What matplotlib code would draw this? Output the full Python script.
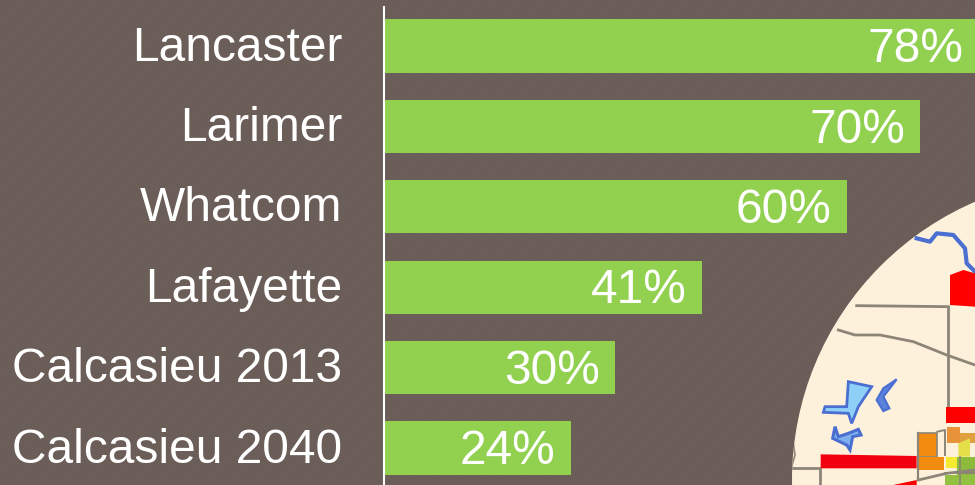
import numpy as np
import matplotlib
matplotlib.use("Agg")
import matplotlib.pyplot as plt
from matplotlib.patches import Circle, Polygon

plt.rcParams["font.family"] = ["Liberation Sans", "DejaVu Sans"]

counties = ["Lancaster", "Larimer", "Whatcom", "Lafayette", "Calcasieu 2013", "Calcasieu 2040"]
shares = [77.7, 70, 60.4, 41.5, 30.2, 24.4]
share_labels = ["78%", "70%", "60%", "41%", "30%", "24%"]

W, H = 975, 485
BG = "#6b5d57"
GREEN = "#92d050"

# the .01 stops 4.85 * 100 rounding down to 484 px
fig = plt.figure(figsize=((W + 0.01) / 100, (H + 0.01) / 100), dpi=100, facecolor=BG)

# background weave + map picture, in pixel coordinates
deco = fig.add_axes([0, 0, 1, 1], zorder=0)
deco.axis("off")

yy, xx = np.mgrid[0:H, 0:W]
weave = ((xx + yy) % 3 == 0).astype(float)
deco.imshow(weave, extent=(0, W, H, 0), cmap=matplotlib.colors.ListedColormap(["#695b55", "#6f615b"]),
            interpolation="nearest", aspect="auto", zorder=0)
deco.set_xlim(0, W)
deco.set_ylim(H, 0)

disc = Circle((1095, 480), 303, fc="#fdf1dc", ec="none", zorder=1)
deco.add_patch(disc)


def zpts(pts):
    return [(780 + x / 3, 210 + y / 3) for x, y in pts]


def zline(pts, color, lw, z=2):
    p = zpts(pts)
    ln, = deco.plot([a for a, b in p], [b for a, b in p], color=color, lw=lw,
                    solid_joinstyle="round", zorder=z)
    ln.set_clip_path(disc)


def zpoly(pts, fc, ec="none", lw=0):
    pg = Polygon(zpts(pts), closed=True, fc=fc, ec=ec, lw=lw, zorder=3)
    deco.add_patch(pg)
    pg.set_clip_path(disc)


ROAD = "#8c8578"
zline([(230, 287), (505, 290)], ROAD, 2)
zline([(505, 290), (505, 600)], ROAD, 2)
zline([(175, 360), (225, 375), (300, 375), (400, 395), (500, 435), (585, 465)], ROAD, 2)
zline([(30, 775), (120, 775), (120, 825)], ROAD, 2)
zline([(35, 770), (45, 735), (40, 700)], ROAD, 1.2)

zline([(410, 85), (450, 95), (470, 70), (520, 75), (555, 115), (560, 160), (585, 185)], "#4a6fd0", 3)

zpoly([(510, 195), (550, 180), (585, 190), (585, 290), (510, 285)], "#fe0000")
zpoly([(122, 733), (410, 738), (410, 775), (122, 775)], "#f2000f")
zpoly([(340, 825), (410, 810), (410, 825)], "#fe0000")
zpoly([(498, 592), (585, 592), (585, 640), (498, 640)], "#fe0000")

zpoly([(415, 668), (472, 668), (472, 740), (415, 740)], "#f28c10", ROAD, 1.2)
zpoly([(415, 742), (492, 742), (492, 780), (415, 780)], "#f28c10")
zpoly([(500, 650), (540, 650), (540, 700), (500, 700)], "#e8923a")
zpoly([(540, 670), (585, 670), (585, 700), (540, 700)], "#e0a040")
zpoly([(497, 742), (530, 742), (530, 775), (497, 775)], "#f5ea30")
zpoly([(535, 700), (570, 685), (570, 740), (535, 740)], "#e5e04a")
zpoly([(532, 742), (585, 742), (585, 795), (532, 795)], "#8cba3a")
zpoly([(495, 795), (585, 795), (585, 825), (495, 825)], "#93c040")
zline([(415, 810), (500, 790), (585, 780)], ROAD, 2, z=4)
zline([(415, 668), (415, 810)], ROAD, 1.6, z=4)
zline([(472, 665), (495, 660), (495, 735)], ROAD, 1.4, z=4)
zline([(495, 790), (585, 790)], ROAD, 1.4, z=4)
zline([(540, 740), (540, 825)], ROAD, 1.2, z=4)

zpoly([(205, 515), (275, 530), (235, 590), (215, 640), (205, 610), (130, 607), (135, 590), (200, 590)],
      "#8fd0f8", "#4a6fd0", 2)
zpoly([(350, 508), (310, 535), (290, 570), (310, 603), (328, 595), (310, 560)], "#5b82dc", "#4a6fd0", 1.6)
zpoly([(165, 650), (158, 685), (200, 705), (210, 720), (218, 680), (243, 675), (235, 658), (205, 670), (175, 680)],
      "#7fb0ee", "#4a6fd0", 2.2)

# bars
ax = fig.add_axes([384 / W, 0, (W - 384) / W, 479 / H], zorder=2)
ax.patch.set_alpha(0)
y = np.arange(len(counties))
bars = ax.barh(y, shares, height=0.66, color=GREEN)
ax.set_xlim(0, (W - 384) / 7.66)
ax.set_ylim(5.46, 5.46 - 479 / 80.4)
ax.set_xticks([])
ax.set_yticks(y)
ax.set_yticklabels(counties, fontsize=34.5, color="white")
ax.tick_params(axis="y", length=0, pad=30)
for lab in ax.get_yticklabels():
    lab.set_transform(lab.get_transform() + matplotlib.transforms.ScaledTranslation(0, 3 / 100, fig.dpi_scale_trans))
for s in ["top", "right", "bottom"]:
    ax.spines[s].set_visible(False)
ax.spines["left"].set_color("white")
ax.spines["left"].set_linewidth(1.5)
ax.spines["left"].set_capstyle("butt")
for b, lab in zip(bars, share_labels):
    ax.annotate(lab, (b.get_width(), b.get_y() + b.get_height() / 2), xytext=(-11, 1),
                textcoords="offset points", ha="right", va="center_baseline",
                fontsize=34.5, color="white", annotation_clip=False)

fig.savefig("out.png", dpi=100, facecolor=BG)
